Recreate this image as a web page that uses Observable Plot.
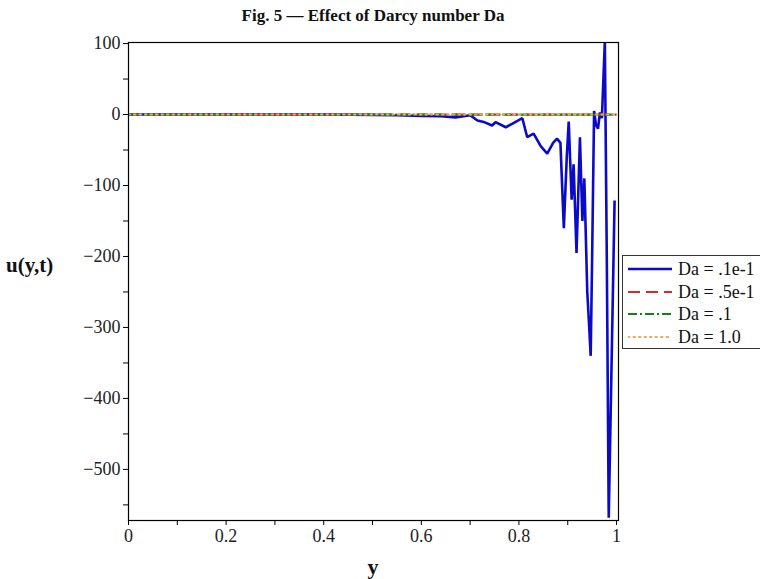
<!DOCTYPE html>
<html><head><meta charset="utf-8">
<script src="https://cdn.jsdelivr.net/npm/d3@7"></script>
<script src="https://cdn.jsdelivr.net/npm/@observablehq/plot@0.6"></script>
<style>
body{margin:0;background:#fff;}
#wrap{position:relative;width:760px;height:579px;overflow:hidden;font-family:"Liberation Serif","Times New Roman",serif;color:#111;}
#title{position:absolute;left:0;top:5px;width:746px;height:22px;line-height:22px;text-align:center;font-weight:bold;font-size:17px;}
#chart{position:absolute;left:0;top:30px;}
#ylab{position:absolute;left:6px;top:252px;font-weight:bold;font-size:21px;line-height:26px;}
#xlab{position:absolute;left:0;top:556px;width:746px;text-align:center;font-weight:bold;font-size:22px;line-height:22px;}
#legend{position:absolute;left:622px;top:255px;width:150px;height:94px;border:1px solid #333;box-sizing:border-box;background:#fff;}
.row{position:absolute;left:0;height:22px;width:150px;}
.row svg{position:absolute;left:5px;top:6px;}
.row span{position:absolute;left:55px;top:0;line-height:22px;font-size:18px;white-space:nowrap;}
</style></head>
<body>
<div id="wrap">
  <div id="title">Fig. 5 — Effect of Darcy number Da</div>
  <div id="chart"></div>
  <div id="ylab">u(y,t)</div>
  <div id="xlab">y</div>
  <div id="legend"></div>
</div>
<script>
// ---- data ----
const seriesNames = ["Da = .1e-1", "Da = .5e-1", "Da = .1", "Da = 1.0"];
const seriesColors = ["#0a0ac8", "#d42a2a", "#15801a", "#f0a85a"];
const seriesDash = [null, "12,6", "9,3,2,3", "1.5,4"];
const seriesWidth = [2.6, 2.2, 2.2, 2];

// Da = .1e-1 (blue)
const yBlue = [0, 0.1, 0.2, 0.3, 0.4, 0.5, 0.55, 0.6, 0.64, 0.67, 0.69, 0.70, 0.715, 0.73, 0.745, 0.752, 0.773, 0.786, 0.807, 0.817, 0.83, 0.845, 0.858, 0.87, 0.878, 0.885, 0.892, 0.898, 0.902, 0.908, 0.912, 0.918, 0.925, 0.930, 0.934, 0.940, 0.944, 0.947, 0.950, 0.954, 0.958, 0.962, 0.966, 0.970, 0.976, 0.980, 0.984, 0.996];
const uBlue = [0, 0, 0, 0, 0, -0.5, -1, -2, -2.5, -4, -2, -1, -8.5, -11, -15.5, -10.8, -17.9, -13.1, -5.2, -32, -26.8, -45, -55, -40, -34, -40, -160, -60, -10, -120, -70, -195, -32, -150, -90, -250, -300, -340, -200, 5, -15, -20, 3, -5, 103, -200, -568, -121];

// Da = .5e-1, .1, 1.0 (all stay at zero)
const yGrid = [0, 0.1, 0.2, 0.3, 0.4, 0.5, 0.6, 0.7, 0.8, 0.9, 1.0];
const uRed = [0, 0, 0, 0, 0, 0, 0, 0, 0, 0, 0];
const uGreen = [0, 0, 0, 0, 0, 0, 0, 0, 0, 0, 0];
const uOrange = [0, 0, 0, 0, 0, 0, 0, 0, 0, 0, 0];

const xTicks = [0, 0.1, 0.2, 0.3, 0.4, 0.5, 0.6, 0.7, 0.8, 0.9, 1.0];
const yTicks = [-550, -500, -450, -400, -350, -300, -250, -200, -150, -100, -50, 0, 50, 100];

// ---- build ----
const rows = [];
const add = (xs, us, k) => xs.forEach((x, i) => rows.push({y: x, u: us[i], s: seriesNames[k]}));
add(yBlue, uBlue, 0);
add(yGrid, uRed, 1);
add(yGrid, uGreen, 2);
add(yGrid, uOrange, 3);

const lineMarks = seriesNames.map((name, k) => Plot.line(rows.filter(d => d.s === name), {
  x: "y", y: "u", stroke: seriesColors[k], strokeWidth: seriesWidth[k],
  strokeDasharray: seriesDash[k] || undefined, strokeLinecap: k === 3 ? "round" : "butt",
  strokeLinejoin: "miter", clip: true
}));

const fmtY = d => d % 100 === 0 ? (d < 0 ? "\u2212" + (-d) : String(d)) : "";
const fmtX = d => Math.round(d * 10) % 2 === 0 ? String(+d.toFixed(1)) : "";

const chart = Plot.plot({
  width: 760, height: 549,
  marginLeft: 128, marginRight: 142, marginTop: 12, marginBottom: 59,
  style: {fontFamily: "'Liberation Serif', 'Times New Roman', serif", fontSize: "18px", color: "#222", background: "white", overflow: "visible"},
  x: {domain: [0, 1.004]},
  y: {domain: [-572, 101.5]},
  marks: [
    ...lineMarks,
    Plot.frame({stroke: "#000", strokeWidth: 1.2}),
    Plot.axisX({ticks: xTicks, tickFormat: fmtX, tickSize: 5, tickPadding: 4, label: null, stroke: "#000"}),
    Plot.axisY({ticks: yTicks, tickFormat: fmtY, tickSize: 5, tickPadding: 3, label: null, stroke: "#000"})
  ]
});
document.getElementById("chart").appendChild(chart);

// legend
const lg = document.getElementById("legend");
seriesNames.forEach((name, k) => {
  const r = document.createElement("div");
  r.className = "row";
  r.style.top = (2 + k * 22.7) + "px";
  const dash = seriesDash[k] ? ` stroke-dasharray="${seriesDash[k]}"` : "";
  r.innerHTML = `<svg width="44" height="10"><line x1="0" x2="44" y1="5" y2="5" stroke="${seriesColors[k]}" stroke-width="${seriesWidth[k]}"${dash}${k===3?' stroke-linecap="round"':''}/></svg><span>${name}</span>`;
  lg.appendChild(r);
});
</script>
</body></html>
